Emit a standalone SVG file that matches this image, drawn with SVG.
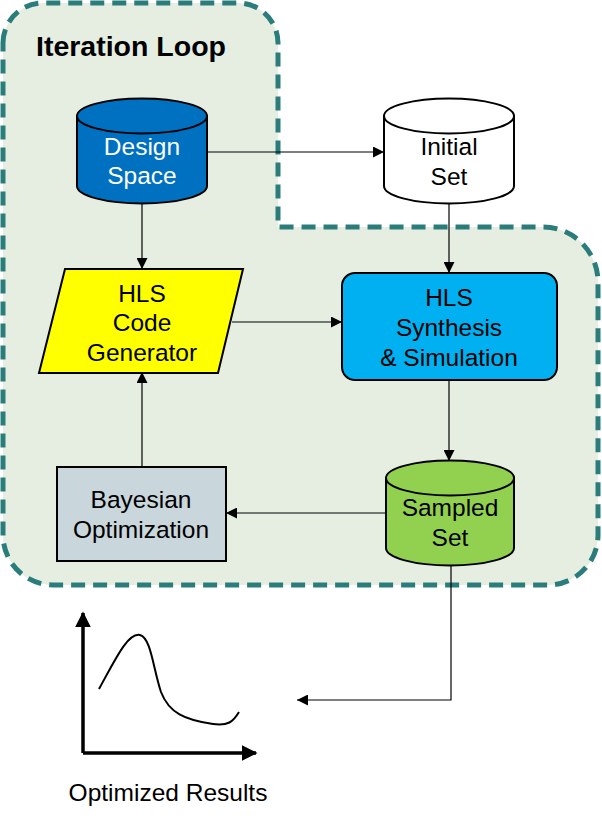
<svg xmlns="http://www.w3.org/2000/svg" width="602" height="824" viewBox="0 0 602 824">
<defs>
<style>
text{font-family:"Liberation Sans",Arial,sans-serif;font-size:24.5px;text-anchor:middle;fill:#000}
.w{fill:#fff}
.n{stroke:#000;stroke-width:2}
.c{stroke:#000;stroke-width:1.2;fill:none}
.ax{stroke:#000;stroke-width:3.5;fill:none}
</style>
<marker id="ah" viewBox="0 0 10 10" refX="10" refY="5" markerWidth="11" markerHeight="11" markerUnits="userSpaceOnUse" orient="auto">
<path d="M0,0 L10,5 L0,10 Z" fill="#000"/>
</marker>
<marker id="ah2" viewBox="0 0 10 10" refX="9" refY="5" markerWidth="4.5" markerHeight="4.5" orient="auto">
<path d="M0,0 L10,5 L0,10 Z" fill="#000"/>
</marker>
</defs>
<rect width="602" height="824" fill="#fff"/>
<g id="iteration-loop">
<path d="M3,43 A40,40 0 0 1 43,3 L238,3 A40,40 0 0 1 278,43 L278,227 L543,227 A55,55 0 0 1 598,282 L598,535 A50,50 0 0 1 548,585 L53,585 A50,50 0 0 1 3,535 Z" fill="#E6EEE2" stroke="#2A7D7B" stroke-width="5" stroke-dasharray="14 8"/>
<text x="36" y="56" style="font-size:28.5px;font-weight:bold;text-anchor:start">Iteration Loop</text>
</g>
<g id="connectors">
<path class="c" d="M207,152 H384" marker-end="url(#ah)"/>
<path class="c" d="M142,204 V269" marker-end="url(#ah)"/>
<path class="c" d="M449,204 V273" marker-end="url(#ah)"/>
<path class="c" d="M232,322 H342" marker-end="url(#ah)"/>
<path class="c" d="M449,380 V461" marker-end="url(#ah)"/>
<path class="c" d="M386,513 H226" marker-end="url(#ah)"/>
<path class="c" d="M142,467 V372" marker-end="url(#ah)"/>
<path class="c" d="M451,566 V700 H297" marker-end="url(#ah)"/>
</g>
<g id="design-space">
<path class="n" d="M77,116 V186 A65,17.5 0 0 0 207,186 V116 Z" fill="#0070C0"/>
<ellipse class="n" cx="142" cy="116" rx="65" ry="17.5" fill="#0070C0"/>
<text class="w" x="142" y="155">Design</text>
<text class="w" x="142" y="184">Space</text>
</g>
<g id="initial-set">
<path class="n" d="M384,116 V186 A65,17.5 0 0 0 514,186 V116 Z" fill="#fff"/>
<ellipse class="n" cx="449" cy="116" rx="65" ry="17.5" fill="#fff"/>
<text x="449" y="155">Initial</text>
<text x="449" y="185">Set</text>
</g>
<g id="hls-code-generator">
<polygon class="n" points="65,269 243,269 218,373 39,373" fill="#FFFF00"/>
<text x="142" y="302">HLS</text>
<text x="142" y="331">Code</text>
<text x="142" y="361">Generator</text>
</g>
<g id="hls-synthesis">
<rect class="n" x="342" y="273" width="215" height="107" rx="13" fill="#00B0F0"/>
<text x="449" y="306">HLS</text>
<text x="449" y="336">Synthesis</text>
<text x="449" y="366">&amp; Simulation</text>
</g>
<g id="sampled-set">
<path class="n" d="M386,478 V548 A64,17.5 0 0 0 514,548 V478 Z" fill="#92D050"/>
<ellipse class="n" cx="450" cy="478" rx="64" ry="17.5" fill="#92D050"/>
<text x="450" y="516">Sampled</text>
<text x="450" y="546">Set</text>
</g>
<g id="bayesian-optimization">
<rect class="n" x="57" y="467" width="169" height="94" fill="#C9D6DC"/>
<text x="141" y="508">Bayesian</text>
<text x="141" y="538">Optimization</text>
</g>
<g id="optimized-results">
<path class="ax" d="M83,753 V613" marker-end="url(#ah2)"/>
<path class="ax" d="M83,753 H256" marker-end="url(#ah2)"/>
<path d="M99,689 C115,660 128,632 140,635 C151,638 153,668 161,692 C169,713 185,720 213,724 C228,726 233,722 239,712" fill="none" stroke="#000" stroke-width="2"/>
<text x="168" y="801">Optimized Results</text>
</g>
</svg>
